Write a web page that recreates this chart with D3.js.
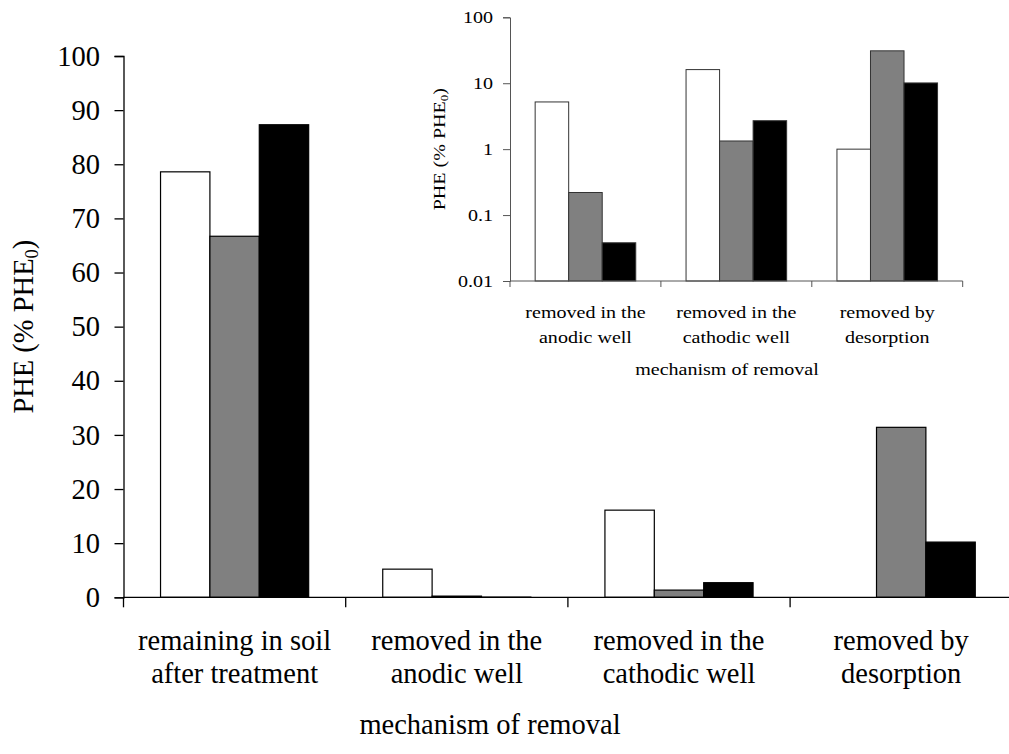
<!DOCTYPE html>
<html>
<head>
<meta charset="utf-8">
<script src="https://cdn.jsdelivr.net/npm/d3@7"></script>
<style>
  html, body { margin: 0; padding: 0; background: #fff; }
</style>
</head>
<body>
<svg id="chart" width="1009" height="754"></svg>
<script>
// Categories of removal and the three treatment series (% of initial PHE)
const categories = ["remaining", "anodic", "cathodic", "desorption"];
const categoryLines = [
  ["remaining in soil", "after treatment"],
  ["removed in the", "anodic well"],
  ["removed in the", "cathodic well"],
  ["removed by", "desorption"]
];
const seriesNames = ["white", "grey", "black"];
const seriesFill = ["#ffffff", "#808080", "#000000"];

// Main chart values (no control value plotted for desorption)
const mainWhite = [78.6, 5.2, 16.1, null];
const mainGrey  = [66.7, 0.22, 1.33, 31.4];
const mainBlack = [87.3, 0.038, 2.7, 10.2];
const mainTicks = [0, 10, 20, 30, 40, 50, 60, 70, 80, 90, 100];

// Inset (log scale) — removal mechanisms only
const insetCategories = ["anodic", "cathodic", "desorption"];
const insetLines = [
  ["removed in the", "anodic well"],
  ["removed in the", "cathodic well"],
  ["removed by", "desorption"]
];
const insetWhite = [5.2, 16.1, 1.0];
const insetGrey  = [0.22, 1.33, 31.0];
const insetBlack = [0.038, 2.7, 10.1];
const insetTicks = [0.01, 0.1, 1, 10, 100];

const FONT = "'Liberation Serif', 'Times New Roman', Times, serif";
const svg = d3.select("#chart").style("font-family", FONT);

// ---------- main chart ----------
const M = { left: 123.5, right: 123.5 + 4 * 222.2, top: 56, bottom: 597.3 };
const x = d3.scaleBand().domain(categories).range([M.left, M.right]).padding(0);
const xs = d3.scaleBand().domain(seriesNames).range([0, x.bandwidth()])
  .paddingInner(0).paddingOuter(0.75);
const y = d3.scaleLinear().domain([0, 100]).range([M.bottom, M.top]);

const mainSeries = [mainWhite, mainGrey, mainBlack];
const main = svg.append("g");

mainSeries.forEach((vals, si) => {
  main.append("g").selectAll("rect")
    .data(vals.map((v, i) => ({ cat: categories[i], v })).filter(d => d.v != null))
    .join("rect")
    .attr("x", d => x(d.cat) + xs(seriesNames[si]))
    .attr("width", xs.bandwidth())
    .attr("y", d => y(d.v))
    .attr("height", d => y(0) - y(d.v))
    .attr("fill", seriesFill[si])
    .attr("stroke", "#000")
    .attr("stroke-width", 1.2);
});

// y axis
const yAxis = main.append("g")
  .attr("transform", `translate(${M.left},0)`)
  .call(d3.axisLeft(y).tickValues(mainTicks).tickSize(9).tickPadding(14.5).tickFormat(d3.format("d")));
yAxis.attr("font-family", null).attr("font-size", null);
yAxis.select(".domain").attr("stroke", "#000").attr("stroke-width", 1.3);
yAxis.selectAll(".tick line").attr("stroke", "#000").attr("stroke-width", 1.3);
yAxis.selectAll("text").attr("fill", "#000")
  .style("font-family", FONT).style("font-size", "28.5px");

// x axis line and category boundary ticks
main.append("line")
  .attr("x1", M.left).attr("x2", M.right)
  .attr("y1", y(0)).attr("y2", y(0))
  .attr("stroke", "#000").attr("stroke-width", 1.3);
main.append("g").selectAll("line")
  .data(categories.concat(["__end"]))
  .join("line")
  .attr("x1", (d, i) => i < categories.length ? x(d) : x.range()[1])
  .attr("x2", (d, i) => i < categories.length ? x(d) : x.range()[1])
  .attr("y1", y(0)).attr("y2", y(0) + 10)
  .attr("stroke", "#000").attr("stroke-width", 1.3);

// category labels
categories.forEach((c, i) => {
  categoryLines[i].forEach((line, li) => {
    main.append("text")
      .attr("x", x(c) + x.bandwidth() / 2)
      .attr("y", 650 + li * 33)
      .attr("text-anchor", "middle")
      .style("font-family", FONT).style("font-size", "28.5px")
      .text(line);
  });
});

// axis titles
main.append("text")
  .attr("x", 490).attr("y", 734)
  .attr("text-anchor", "middle")
  .style("font-family", FONT).style("font-size", "28.5px")
  .text("mechanism of removal");

const yTitle = main.append("text")
  .attr("transform", `translate(33,${(M.top + M.bottom) / 2}) rotate(-90)`)
  .attr("text-anchor", "middle")
  .style("font-family", FONT).style("font-size", "28.5px");
yTitle.append("tspan").text("PHE (% PHE");
yTitle.append("tspan").style("font-size", "18.5px").attr("dy", 5).text("0");
yTitle.append("tspan").attr("dy", -5).text(")");

// ---------- inset (log scale) ----------
const I = { left: 510, right: 962.7, top: 17.3, bottom: 281 };
const K = 1.18; // horizontal stretch of the inset lettering
const ix = d3.scaleBand().domain(insetCategories).range([I.left, I.right]).padding(0);
const ixs = d3.scaleBand().domain(seriesNames).range([0, ix.bandwidth()])
  .paddingInner(0).paddingOuter(0.75);
const iy = d3.scaleLog().domain([0.01, 100]).range([I.bottom, I.top]);

const insetSeries = [insetWhite, insetGrey, insetBlack];
const inset = svg.append("g");
const insetStroke = "#333";

insetSeries.forEach((vals, si) => {
  inset.append("g").selectAll("rect")
    .data(vals.map((v, i) => ({ cat: insetCategories[i], v })))
    .join("rect")
    .attr("x", d => ix(d.cat) + ixs(seriesNames[si]))
    .attr("width", ixs.bandwidth())
    .attr("y", d => iy(d.v))
    .attr("height", d => iy(0.01) - iy(d.v))
    .attr("fill", seriesFill[si])
    .attr("stroke", insetStroke)
    .attr("stroke-width", 1);
});

const iyAxis = inset.append("g")
  .attr("transform", `translate(${I.left},0)`)
  .call(d3.axisLeft(iy).tickValues(insetTicks).tickSize(7).tickPadding(10).tickFormat(d => String(d)));
iyAxis.attr("font-family", null).attr("font-size", null);
iyAxis.select(".domain").attr("stroke", "#555").attr("stroke-width", 1);
iyAxis.selectAll(".tick line").attr("stroke", "#555").attr("stroke-width", 1);
iyAxis.selectAll("text").attr("fill", "#000")
  .style("font-family", FONT).style("font-size", "17px")
  .each(function () {
    const t = d3.select(this);
    const xx = +t.attr("x");
    t.attr("x", xx / K).attr("transform", `scale(${K},1)`);
  });

inset.append("line")
  .attr("x1", I.left).attr("x2", I.right)
  .attr("y1", iy(0.01)).attr("y2", iy(0.01))
  .attr("stroke", "#555").attr("stroke-width", 1);
inset.append("g").selectAll("line")
  .data(insetCategories.concat(["__end"]))
  .join("line")
  .attr("x1", (d, i) => i < insetCategories.length ? ix(d) : ix.range()[1])
  .attr("x2", (d, i) => i < insetCategories.length ? ix(d) : ix.range()[1])
  .attr("y1", iy(0.01)).attr("y2", iy(0.01) + 6)
  .attr("stroke", "#555").attr("stroke-width", 1);

insetCategories.forEach((c, i) => {
  insetLines[i].forEach((line, li) => {
    inset.append("text")
      .attr("transform", `translate(${ix(c) + ix.bandwidth() / 2},${317.5 + li * 25.3}) scale(${K},1)`)
      .attr("text-anchor", "middle")
      .style("font-family", FONT).style("font-size", "17px")
      .text(line);
  });
});

inset.append("text")
  .attr("transform", `translate(727,375) scale(${K},1)`)
  .attr("text-anchor", "middle")
  .style("font-family", FONT).style("font-size", "17px")
  .text("mechanism of removal");

const iyTitle = inset.append("text")
  .attr("transform", `translate(445,${(I.top + I.bottom) / 2}) rotate(-90) scale(${K},1)`)
  .attr("text-anchor", "middle")
  .style("font-family", FONT).style("font-size", "17px");
iyTitle.append("tspan").text("PHE (% PHE");
iyTitle.append("tspan").style("font-size", "11px").attr("dy", 3).text("0");
iyTitle.append("tspan").attr("dy", -3).text(")");
</script>
</body>
</html>
